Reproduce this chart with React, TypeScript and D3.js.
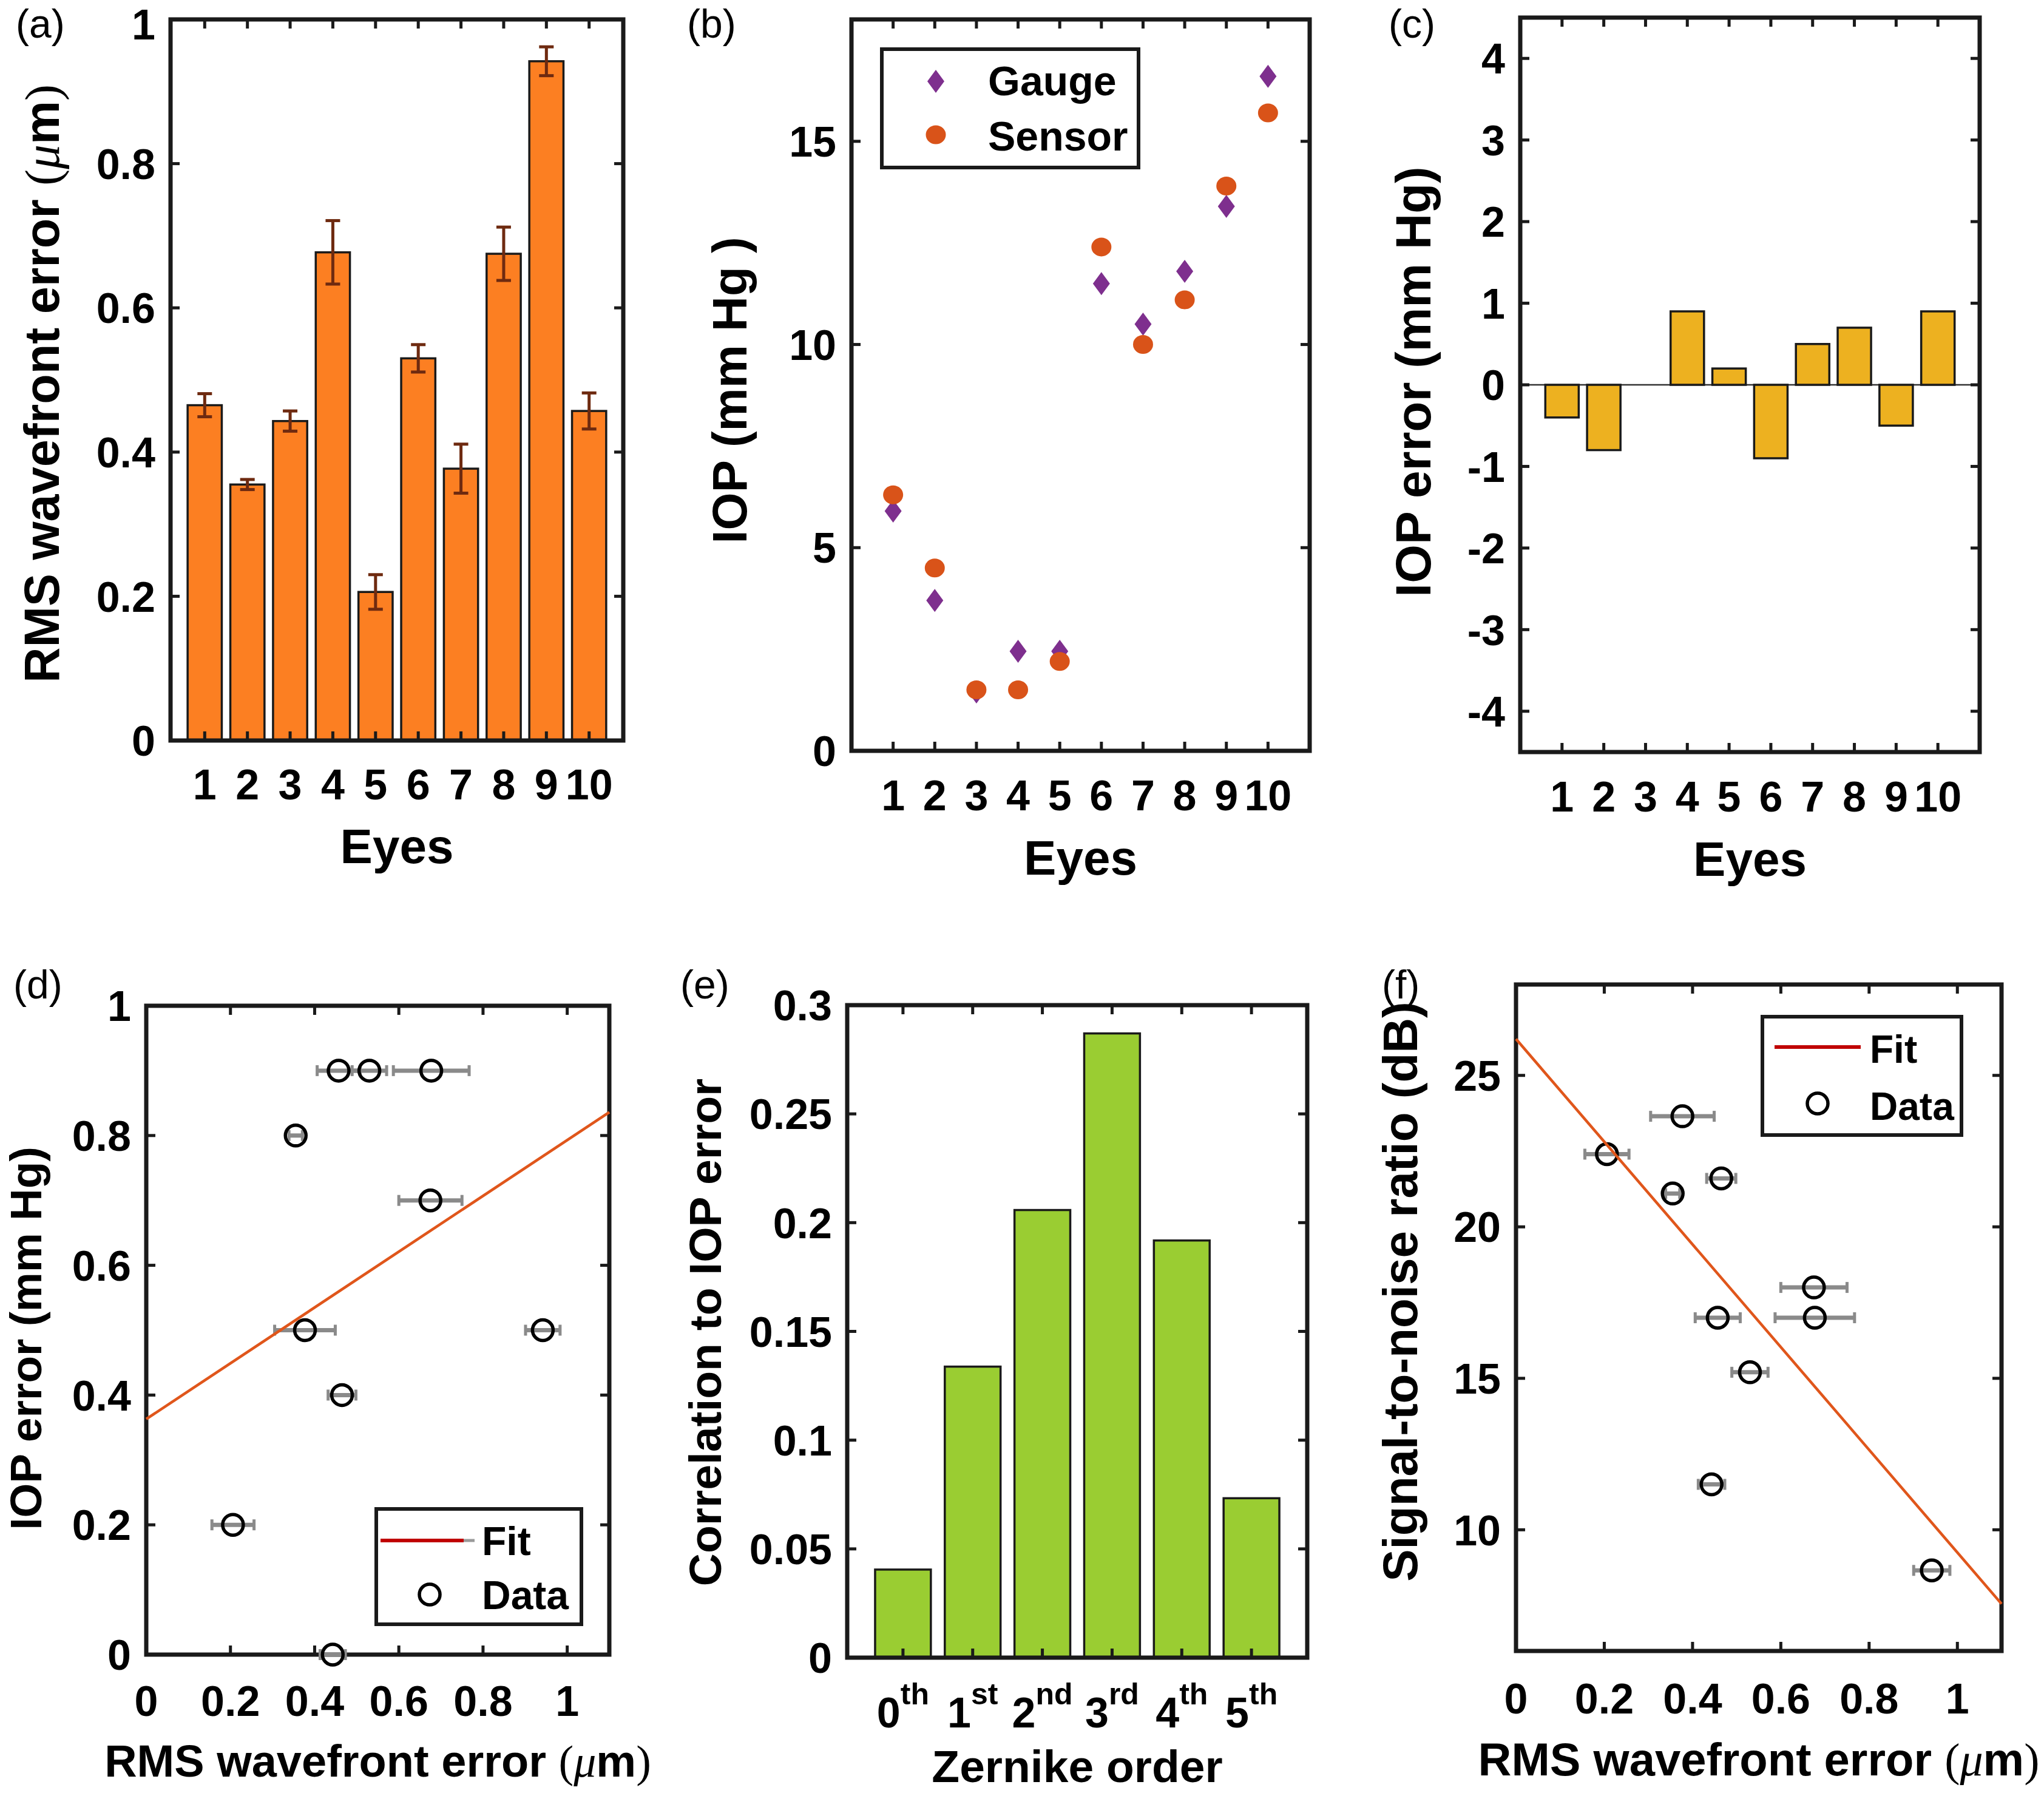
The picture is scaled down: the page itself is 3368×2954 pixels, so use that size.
import React from "react";
import * as d3 from "d3";

// ---------------- data ----------------
const eyes = [1, 2, 3, 4, 5, 6, 7, 8, 9, 10];
const rmsWavefront = [0.465, 0.355, 0.443, 0.677, 0.206, 0.53, 0.377, 0.675, 0.942, 0.457];
const rmsStdBar = [0.016, 0.007, 0.014, 0.044, 0.024, 0.019, 0.034, 0.037, 0.02, 0.025];
const rmsStdScatter = [0.033, 0.016, 0.03, 0.09, 0.05, 0.041, 0.072, 0.075, 0.041, 0.051];
const iopGauge = [5.9, 3.7, 1.45, 2.45, 2.45, 11.5, 10.5, 11.8, 13.4, 16.6];
const iopSensor = [6.3, 4.5, 1.5, 1.5, 2.2, 12.4, 10.0, 11.1, 13.9, 15.7];
const iopError = [-0.4, -0.8, 0, 0.9, 0.2, -0.9, 0.5, 0.7, -0.5, 0.9];
const iopErrorAbs = [0.4, 0.8, 0, 0.9, 0.2, 0.9, 0.5, 0.7, 0.5, 0.9];
const snrDb = [21.6, 21.1, 11.5, 17.0, 22.4, 15.2, 23.65, 18.0, 8.66, 17.0];
const zernikeOrder = [0, 1, 2, 3, 4, 5];
const zernikeSuffix = ["th", "st", "nd", "rd", "th", "th"];
const zernikeCorr = [0.0405, 0.1338, 0.2058, 0.287, 0.1918, 0.0733];
const fitIop = { intercept: 0.363, slope: 0.43 };
const fitSnr = { intercept: 26.2, slope: -16.95 };

const ticksA = [0, 0.2, 0.4, 0.6, 0.8, 1];
const ticksB = [0, 5, 10, 15];
const ticksC = [-4, -3, -2, -1, 0, 1, 2, 3, 4];
const ticksRms = [0, 0.2, 0.4, 0.6, 0.8, 1];
const ticksE = [0, 0.05, 0.1, 0.15, 0.2, 0.25, 0.3];
const ticksF = [10, 15, 20, 25];

// ---------------- styling ----------------
const FONT = "'Liberation Sans', Arial, Helvetica, sans-serif";
const SERIF = "'Liberation Serif', 'DejaVu Serif', serif";
const INK = "#1a1a1a";
const TICK_FS = 70;
const TL = 15;

function Frame({ L, R, T, B, xt, yt }: any) {
  return (
    <g stroke={INK} fill="none">
      {xt.map((x: number, i: number) => (
        <g key={"x" + i} strokeWidth={5}>
          <line x1={x} x2={x} y1={B} y2={B - TL} />
          <line x1={x} x2={x} y1={T} y2={T + TL} />
        </g>
      ))}
      {yt.map((y: number, i: number) => (
        <g key={"y" + i} strokeWidth={5}>
          <line x1={L} x2={L + TL} y1={y} y2={y} />
          <line x1={R} x2={R - TL} y1={y} y2={y} />
        </g>
      ))}
      <rect x={L} y={T} width={R - L} height={B - T} strokeWidth={7} />
    </g>
  );
}

function YTickLabels({ L, ys, labels }: any) {
  return (
    <g fontSize={TICK_FS} textAnchor="end" fill="#000">
      {ys.map((y: number, i: number) => (
        <text key={i} x={L - 25} y={Math.max(y + 0.36 * TICK_FS, 0.93 * TICK_FS)}>
          {labels[i]}
        </text>
      ))}
    </g>
  );
}

function XTickLabels({ base, xs, labels }: any) {
  return (
    <g fontSize={TICK_FS} textAnchor="middle" fill="#000">
      {xs.map((x: number, i: number) => (
        <text key={i} x={x} y={base}>
          {labels[i]}
        </text>
      ))}
    </g>
  );
}

function YTitle({ x, y, fs, children }: any) {
  return (
    <text transform={`translate(${x},${y}) rotate(-90)`} textAnchor="middle" fontSize={fs} fill="#000">
      {children}
    </text>
  );
}

function RmsTitle() {
  return (
    <>
      {"RMS wavefront error "}
      <tspan fontFamily={SERIF} fontWeight="normal">(</tspan>
      <tspan fontFamily={SERIF} fontStyle="italic" fontWeight="normal">μ</tspan>
      m
      <tspan fontFamily={SERIF} fontWeight="normal">)</tspan>
    </>
  );
}

function Letter({ x, y, t }: any) {
  return (
    <text x={x} y={y} fontSize={66} fontWeight="normal" fill="#000">
      {t}
    </text>
  );
}

// ---------------- (a) ----------------
function PanelA() {
  const L = 281, R = 1027, T = 32, B = 1220;
  const x = d3.scaleLinear().domain([0.2, 10.8]).range([L, R]);
  const y = d3.scaleLinear().domain([0, 1]).range([B, T]);
  const hw = 0.4;
  return (
    <g>
      {eyes.map((e, i) => (
        <rect key={i} x={x(e - hw)} y={y(rmsWavefront[i])} width={x(e + hw) - x(e - hw)}
          height={y(0) - y(rmsWavefront[i])} fill="#FC7F22" stroke={INK} strokeWidth={3.5} />
      ))}
      {eyes.map((e, i) => {
        const cx = x(e);
        const y1 = y(rmsWavefront[i] - rmsStdBar[i]);
        const y2 = y(rmsWavefront[i] + rmsStdBar[i]);
        return (
          <g key={i} stroke="#6E2A10" strokeWidth={5}>
            <line x1={cx} x2={cx} y1={y1} y2={y2} />
            <line x1={cx - 12} x2={cx + 12} y1={y1} y2={y1} />
            <line x1={cx - 12} x2={cx + 12} y1={y2} y2={y2} />
          </g>
        );
      })}
      <Frame L={L} R={R} T={T} B={B} xt={eyes.map((e) => x(e))} yt={ticksA.map((v) => y(v))} />
      <YTickLabels L={L} ys={ticksA.map((v) => y(v))} labels={ticksA.map(String)} />
      <XTickLabels base={1317} xs={eyes.map((e) => x(e))} labels={eyes.map(String)} />
      <text x={(L + R) / 2} y={1422} textAnchor="middle" fontSize={80}>Eyes</text>
      <YTitle x={97} y={632} fs={81}><RmsTitle /></YTitle>
      <Letter x={26} y={62} t="(a)" />
    </g>
  );
}

// ---------------- (b) ----------------
function PanelB() {
  const L = 1403, R = 2158, T = 32, B = 1237;
  const x = d3.scaleLinear().domain([0, 11]).range([L, R]);
  const y = d3.scaleLinear().domain([0, 18]).range([B, T]);
  const diamond = (cx: number, cy: number) =>
    `M${cx},${cy - 19}L${cx + 14},${cy}L${cx},${cy + 19}L${cx - 14},${cy}Z`;
  return (
    <g>
      <Frame L={L} R={R} T={T} B={B} xt={eyes.map((e) => x(e))} yt={ticksB.map((v) => y(v))} />
      {eyes.map((e, i) => (
        <path key={"g" + i} d={diamond(x(e), y(iopGauge[i]))} fill="#7E2F8E" />
      ))}
      {eyes.map((e, i) => (
        <ellipse key={"s" + i} cx={x(e)} cy={y(iopSensor[i])} rx={16.5} ry={15.5} fill="#D95319" />
      ))}
      <g>
        <rect x={1453} y={81} width={423} height={195} fill="#fff" stroke={INK} strokeWidth={6} />
        <path d={diamond(1542, 134)} fill="#7E2F8E" />
        <ellipse cx={1542} cy={222} rx={16.5} ry={15.5} fill="#D95319" />
        <text x={1628} y={157} fontSize={68}>Gauge</text>
        <text x={1628} y={248} fontSize={68}>Sensor</text>
      </g>
      <YTickLabels L={L} ys={ticksB.map((v) => y(v))} labels={ticksB.map(String)} />
      <XTickLabels base={1335} xs={eyes.map((e) => x(e))} labels={eyes.map(String)} />
      <text x={(L + R) / 2} y={1441} textAnchor="middle" fontSize={80}>Eyes</text>
      <YTitle x={1230} y={643} fs={80}>IOP (mm Hg )</YTitle>
      <Letter x={1132} y={62} t="(b)" />
    </g>
  );
}

// ---------------- (c) ----------------
function PanelC() {
  const L = 2505, R = 3262, T = 29, B = 1239;
  const x = d3.scaleLinear().domain([0, 11]).range([L, R]);
  const y = d3.scaleLinear().domain([-4.5, 4.5]).range([B, T]);
  const hw = 0.4;
  return (
    <g>
      <line x1={L} x2={R} y1={y(0)} y2={y(0)} stroke="#333" strokeWidth={2.5} />
      {eyes.map((e, i) => {
        const v = iopError[i];
        if (v === 0) return null;
        return (
          <rect key={i} x={x(e - hw)} y={Math.min(y(v), y(0))} width={x(e + hw) - x(e - hw)}
            height={Math.abs(y(v) - y(0))} fill="#EDB120" stroke={INK} strokeWidth={3.5} />
        );
      })}
      <Frame L={L} R={R} T={T} B={B} xt={eyes.map((e) => x(e))} yt={ticksC.map((v) => y(v))} />
      <YTickLabels L={L} ys={ticksC.map((v) => y(v))} labels={ticksC.map(String)} />
      <XTickLabels base={1337} xs={eyes.map((e) => x(e))} labels={eyes.map(String)} />
      <text x={(L + R) / 2} y={1443} textAnchor="middle" fontSize={80}>Eyes</text>
      <YTitle x={2357} y={629} fs={82}>IOP error (mm Hg)</YTitle>
      <Letter x={2288} y={62} t="(c)" />
    </g>
  );
}

// ---------------- scatter helper ----------------
const CIRCLE_R = 17;
function ScatterPoints({ x, y, xs, ys, errs }: any) {
  return (
    <g>
      {xs.map((xv: number, i: number) => {
        const cy = y(ys[i]);
        const a = x(xv - errs[i]);
        const b = x(xv + errs[i]);
        return (
          <g key={"e" + i} stroke="#8a8a8a">
            <line x1={a} x2={b} y1={cy} y2={cy} strokeWidth={7} />
            <line x1={a} x2={a} y1={cy - 9} y2={cy + 9} strokeWidth={5} />
            <line x1={b} x2={b} y1={cy - 9} y2={cy + 9} strokeWidth={5} />
          </g>
        );
      })}
      {xs.map((xv: number, i: number) => (
        <circle key={"c" + i} cx={x(xv)} cy={y(ys[i])} r={CIRCLE_R} fill="none" stroke="#000" strokeWidth={5.5} />
      ))}
    </g>
  );
}

// ---------------- (d) ----------------
function PanelD() {
  const L = 241, R = 1004, T = 1657, B = 2726;
  const x = d3.scaleLinear().domain([0, 1.1]).range([L, R]);
  const y = d3.scaleLinear().domain([0, 1]).range([B, T]);
  const fit = d3.line<number>().x((v) => x(v)).y((v) => y(fitIop.intercept + fitIop.slope * v));
  return (
    <g>
      <Frame L={L} R={R} T={T} B={B} xt={ticksRms.map((v) => x(v))} yt={ticksA.map((v) => y(v))} />
      <ScatterPoints x={x} y={y} xs={rmsWavefront} ys={iopErrorAbs} errs={rmsStdScatter} />
      <path d={fit(x.domain()) || ""} stroke="#E0561B" strokeWidth={4.5} fill="none" />
      <g>
        <rect x={620} y={2486} width={338} height={190} fill="#fff" stroke={INK} strokeWidth={6} />
        <line x1={764} x2={782} y1={2538} y2={2538} stroke="#9a9a9a" strokeWidth={5} />
        <line x1={627} x2={764} y1={2538} y2={2538} stroke="#C00000" strokeWidth={6} />
        <text x={794} y={2562} fontSize={66}>Fit</text>
        <circle cx={708} cy={2627} r={CIRCLE_R} fill="none" stroke="#000" strokeWidth={5.5} />
        <text x={794} y={2651} fontSize={66}>Data</text>
      </g>
      <YTickLabels L={L} ys={ticksA.map((v) => y(v))} labels={ticksA.map(String)} />
      <XTickLabels base={2827} xs={ticksRms.map((v) => x(v))} labels={ticksRms.map(String)} />
      <text x={(L + R) / 2} y={2927} textAnchor="middle" fontSize={74}><RmsTitle /></text>
      <YTitle x={68} y={2205} fs={73}>IOP error (mm Hg)</YTitle>
      <Letter x={22} y={1645} t="(d)" />
    </g>
  );
}

// ---------------- (e) ----------------
function PanelE() {
  const L = 1396, R = 2154, T = 1656, B = 2731;
  const x = d3.scaleLinear().domain([-0.8, 5.8]).range([L, R]);
  const y = d3.scaleLinear().domain([0, 0.3]).range([B, T]);
  const hw = 0.4;
  return (
    <g>
      {zernikeOrder.map((o, i) => (
        <rect key={i} x={x(o - hw)} y={y(zernikeCorr[i])} width={x(o + hw) - x(o - hw)}
          height={y(0) - y(zernikeCorr[i])} fill="#9ACD32" stroke={INK} strokeWidth={3.5} />
      ))}
      <Frame L={L} R={R} T={T} B={B} xt={zernikeOrder.map((o) => x(o))} yt={ticksE.map((v) => y(v))} />
      <YTickLabels L={L} ys={ticksE.map((v) => y(v))} labels={ticksE.map(String)} />
      <g fontSize={TICK_FS} textAnchor="middle">
        {zernikeOrder.map((o, i) => (
          <text key={i} x={x(o)} y={2846}>
            {String(o)}
            <tspan fontSize={50} dy={-38}>{zernikeSuffix[i]}</tspan>
          </text>
        ))}
      </g>
      <text x={(L + R) / 2} y={2936} textAnchor="middle" fontSize={75}>Zernike order</text>
      <YTitle x={1188} y={2195} fs={75}>Correlation to IOP error</YTitle>
      <Letter x={1121} y={1645} t="(e)" />
    </g>
  );
}

// ---------------- (f) ----------------
function PanelF() {
  const L = 2498, R = 3298, T = 1622, B = 2720;
  const x = d3.scaleLinear().domain([0, 1.1]).range([L, R]);
  const y = d3.scaleLinear().domain([6, 28]).range([B, T]);
  const fit = d3.line<number>().x((v) => x(v)).y((v) => y(fitSnr.intercept + fitSnr.slope * v));
  return (
    <g>
      <Frame L={L} R={R} T={T} B={B} xt={ticksRms.map((v) => x(v))} yt={ticksF.map((v) => y(v))} />
      <ScatterPoints x={x} y={y} xs={rmsWavefront} ys={snrDb} errs={rmsStdScatter} />
      <path d={fit(x.domain()) || ""} stroke="#E0561B" strokeWidth={4.5} fill="none" />
      <g>
        <rect x={2904} y={1675} width={328} height={195} fill="#fff" stroke={INK} strokeWidth={6} />
        <line x1={2924} x2={3066} y1={1725} y2={1725} stroke="#C00000" strokeWidth={6} />
        <text x={3081} y={1751} fontSize={64}>Fit</text>
        <circle cx={2995} cy={1818} r={CIRCLE_R} fill="none" stroke="#000" strokeWidth={5.5} />
        <text x={3081} y={1845} fontSize={64}>Data</text>
      </g>
      <YTickLabels L={L} ys={ticksF.map((v) => y(v))} labels={ticksF.map(String)} />
      <XTickLabels base={2823} xs={ticksRms.map((v) => x(v))} labels={ticksRms.map(String)} />
      <text x={(L + R) / 2} y={2925} textAnchor="middle" fontSize={76}><RmsTitle /></text>
      <YTitle x={2335} y={2128} fs={80}>Signal-to-noise ratio (dB)</YTitle>
      <Letter x={2277} y={1645} t="(f)" />
    </g>
  );
}

export default function App() {
  return (
    <svg width={3368} height={2954} viewBox="0 0 3368 2954"
      style={{ position: "absolute", left: 0, top: 0, background: "#fff" }}
      fontFamily={FONT} fontWeight="bold">
      <rect x={0} y={0} width={3368} height={2954} fill="#fff" />
      <PanelA />
      <PanelB />
      <PanelC />
      <PanelD />
      <PanelE />
      <PanelF />
    </svg>
  );
}
